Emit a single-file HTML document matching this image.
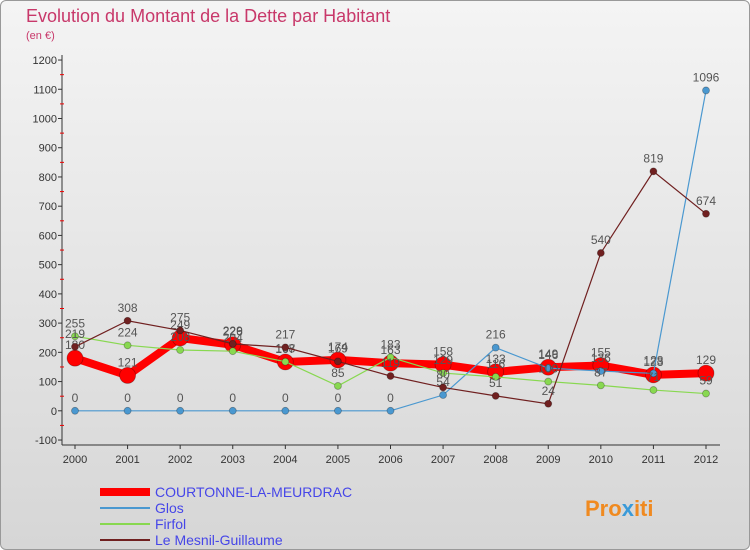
<!DOCTYPE html>
<html><head><meta charset="utf-8"><style>
body{margin:0;width:750px;height:550px;overflow:hidden;font-family:"Liberation Sans",sans-serif;}
#wrap{position:absolute;left:0;top:0;width:748px;height:548px;border:1px solid #999;border-radius:6px;background:linear-gradient(#f4f4f4,#d6d6d6);}
</style></head><body>
<div id="wrap">
<svg id="chart" width="750" height="550" style="position:absolute;left:-1px;top:-1px;font-family:'Liberation Sans',sans-serif">
<text x="26" y="22" font-size="18" fill="#c8386a">Evolution du Montant de la Dette par Habitant</text>
<text x="26" y="39" font-size="11" fill="#c8386a">(en €)</text>
<g id="axes"></g><g id="series"></g><g id="legend"></g>
<text x="585" y="516" font-size="22" font-weight="bold" fill="#f08a20">Pro<tspan fill="#3a9ad8">x</tspan>iti</text>
</svg></div>
<script>
const years=[2000,2001,2002,2003,2004,2005,2006,2007,2008,2009,2010,2011,2012];
const yTicks=[-100,0,100,200,300,400,500,600,700,800,900,1000,1100,1200];
const courtonne=[180,121,249,226,167,174,163,158,133,149,155,123,129];
const glos=[0,0,0,0,0,0,0,54,216,146,136,128,1096];
const firfol=[255,224,208,204,168,85,183,129,116,100,87,71,59];
const mesnil=[219,308,275,229,217,169,119,80,51,24,540,819,674];
const NS="http://www.w3.org/2000/svg";
function xs(i){return 75+i*(706-75)/12;}
function ys(v){return 410.8-v*380/1300;}
function mk(t,a,p){const e=document.createElementNS(NS,t);for(const k in a)e.setAttribute(k,a[k]);p.appendChild(e);return e;}
const ax=document.getElementById('axes');
const yl=mk('line',{x1:62,y1:55,x2:62,y2:445,stroke:'#333'},ax);


const xl=mk('line',{x1:62,y1:445,x2:720,y2:445,stroke:'#333'},ax);


yTicks.forEach((v,k)=>{const y=ys(v);
mk('line',{x1:58,y1:y,x2:62,y2:y,stroke:'#333'},ax);
if(k<yTicks.length-1)mk('line',{x1:60,y1:y-14.6,x2:64,y2:y-14.6,stroke:'#e00'},ax);
const t=mk('text',{x:57,y:y+4,'font-size':11,'text-anchor':'end',fill:'#333'},ax);t.textContent=v;

});
years.forEach((yr,i)=>{const x=xs(i);mk('line',{x1:x,y1:445,x2:x,y2:449,stroke:'#333'},ax);
const t=mk('text',{x:x,y:463,'font-size':11,'text-anchor':'middle',fill:'#333'},ax);t.textContent=yr;

});
const sg=document.getElementById('series');
const S=[{n:'Glos',d:glos,c:'#4a98d0',w:1.2,r:3.5},{n:'Firfol',d:firfol,c:'#88d850',w:1.2,r:3.5},{n:'Le Mesnil-Guillaume',d:mesnil,c:'#702020',w:1.2,r:3.5},{n:'COURTONNE-LA-MEURDRAC',d:courtonne,c:'#ff0000',w:8,r:8}];
[S[3],S[0],S[1],S[2]].forEach(s=>{const g=mk('g',{},sg);


mk('polyline',{points:s.d.map((v,i)=>xs(i)+','+ys(v)).join(' '),fill:'none',stroke:s.c,'stroke-width':s.w},g);
s.d.forEach((v,i)=>{const c=mk('circle',{cx:xs(i),cy:ys(v),r:s.r,fill:s.c,stroke:'rgba(0,0,0,0.3)','stroke-width':0.8},g);


const t=mk('text',{x:xs(i),y:ys(v)-9,'font-size':12,'text-anchor':'middle',fill:'#555'},g);t.textContent=v;});});
const lg=document.getElementById('legend');
[S[3],S[0],S[1],S[2]].forEach((s,k)=>{const y=492+k*16;const g=mk('g',{},lg);


mk('line',{x1:100,y1:y,x2:150,y2:y,stroke:s.c,'stroke-width':s.w==8?8:2},g);
const t=mk('text',{x:155,y:y+5,'font-size':14,fill:'#4646e8'},g);t.textContent=s.n;});
</script></body></html>
